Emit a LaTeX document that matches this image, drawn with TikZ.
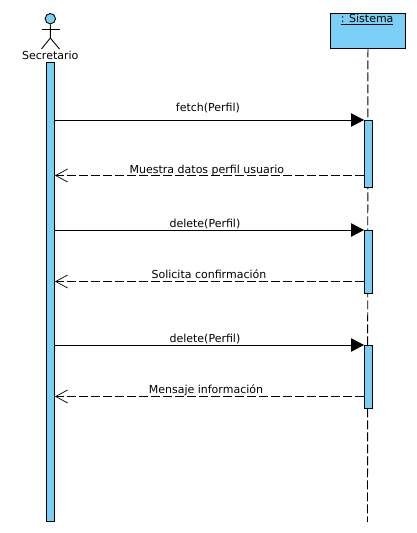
\documentclass[tikz,border=0pt]{standalone}
\usepackage{fontspec}
\setmainfont{DejaVu Sans}
\usetikzlibrary{arrows.meta,positioning}
\definecolor{umlblue}{HTML}{7ACFF6}
\tikzset{
    bar/.style={draw, fill=umlblue, line width=0.9pt, minimum width=8pt, inner sep=0pt, anchor=north west},
    call/.style={line width=0.9pt, -{Triangle[length=13pt,width=13.5pt]}},
    reply/.style={line width=0.9pt, dash pattern=on 9pt off 3pt, -{Straight Barb[length=12pt,width=13pt,line width=0.7pt]}},
    msg/.style={font=\fontsize{11pt}{13pt}\selectfont, text height=8.5pt, text depth=2pt, inner sep=0pt, above=0pt, xshift=-2.5pt},
    actorline/.style={line width=0.9pt}
}
\begin{document}
\begin{tikzpicture}[x=1pt,y=-1pt]
\useasboundingbox (0,0) rectangle (417,533);

            % actor
            \node[circle, draw, fill=umlblue, line width=0.9pt, minimum size=10.4pt, inner sep=0pt](head) at (50.3,18.7){};
            \coordinate (hip) at (50.3,38);
            \coordinate (armL) at (41.5,29);
            \coordinate (armR) at (59.5,29);
            \coordinate (footL) at (41.5,49);
            \coordinate (footR) at (59.5,49);
            \draw[actorline] (head.south) -- (hip) -- (footL);
            \draw[actorline] (hip) -- (footR);
            \draw[actorline] (armL) -- (armR);
            \node[font=\fontsize{11pt}{13pt}\selectfont, inner sep=0pt](secretario) at (50.3,55){Secretario};
            \node[bar, minimum height=459pt](secretarioBar) at (46,62){};

            % system
            \node[bar, minimum width=75pt, minimum height=34.5pt](sistema) at (330,13){};
            \node[font=\fontsize{11pt}{13pt}\selectfont, inner sep=0pt, below=1.2pt of sistema.north, xshift=-0.8pt](sistemaName){\underline{: Sistema}};
            \coordinate (sistemaEnd) at (367.5,522);
            \draw[line width=0.9pt, dash pattern=on 9pt off 3pt] (sistema.south) -- (sistemaEnd);

            % activations
            \node[bar, minimum height=67pt](fetchBar) at (364,120){};
            \node[bar, minimum height=62.5pt](deleteBar) at (364,230){};
            \node[bar, minimum height=62.5pt](avisoBar) at (364,345){};

            % messages
            \coordinate (fetchEnd) at (fetchBar.west |- 0,175.5);
            \coordinate (deleteEnd) at (deleteBar.west |- 0,281.5);
            \coordinate (avisoEnd) at (avisoBar.west |- 0,396.5);

            \draw[call] (secretarioBar.east |- fetchBar.north) -- (fetchBar.north west)
                node[midway, msg, yshift=6pt, xshift=1pt](fetchLabel){fetch(Perfil)};
            \draw[reply] (fetchEnd) -- (secretarioBar.east |- fetchEnd)
                node[midway, msg](muestraLabel){Muestra datos perfil usuario};
            \draw[call] (secretarioBar.east |- deleteBar.north) -- (deleteBar.north west)
                node[midway, msg, xshift=-2pt](deleteLabel){delete(Perfil)};
            \draw[reply] (deleteEnd) -- (secretarioBar.east |- deleteEnd)
                node[midway, msg, xshift=2pt, yshift=1pt](solicitaLabel){Solicita confirmación};
            \draw[call] (secretarioBar.east |- avisoBar.north) -- (avisoBar.north west)
                node[midway, msg, xshift=-2pt](avisoLabel){delete(Perfil)};
            \draw[reply] (avisoEnd) -- (secretarioBar.east |- avisoEnd)
                node[midway, msg, xshift=-1pt, yshift=1pt](mensajeLabel){Mensaje información};
\end{tikzpicture}
\end{document}
